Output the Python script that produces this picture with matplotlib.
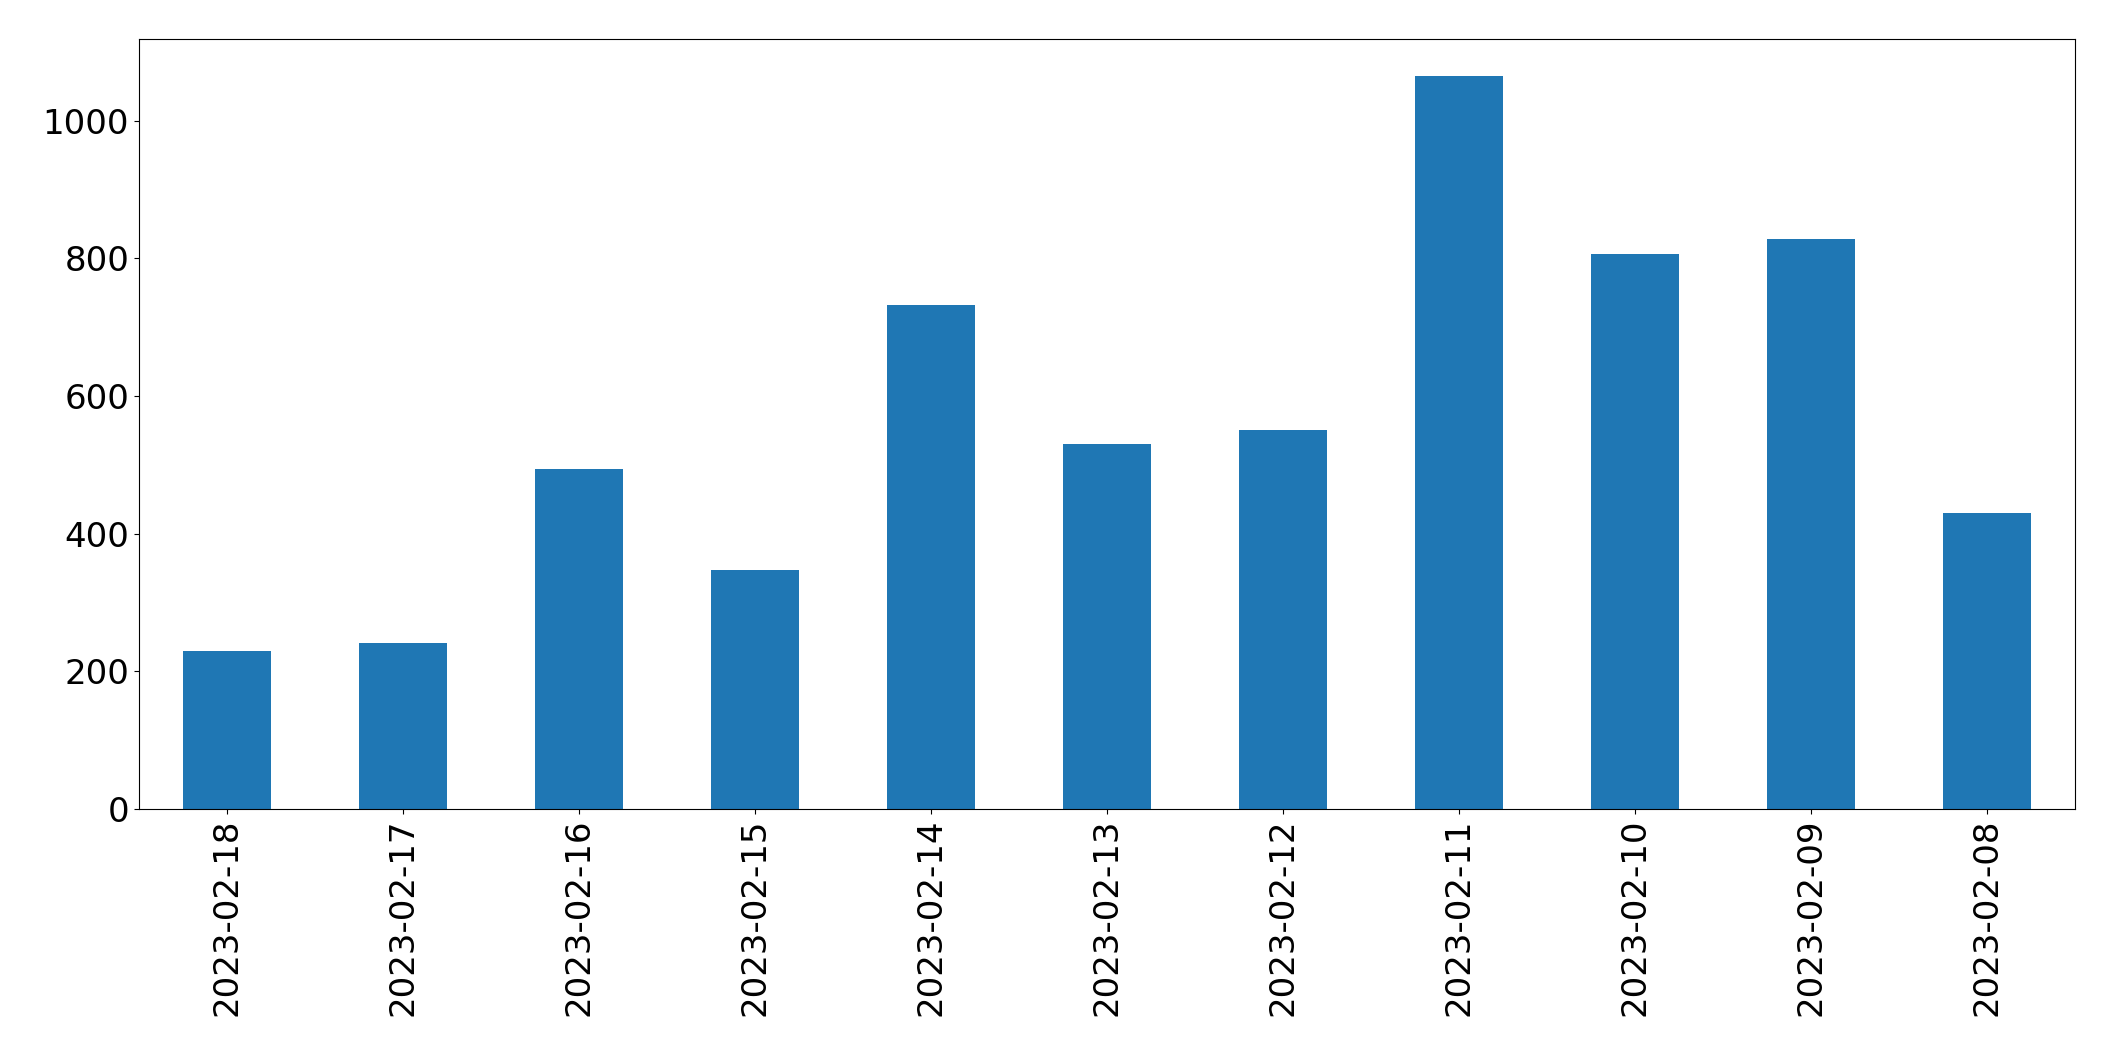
import matplotlib
matplotlib.use("Agg")
import matplotlib.pyplot as plt

# 日付ごとの件数
dates = ["2023-02-18", "2023-02-17", "2023-02-16", "2023-02-15", "2023-02-14",
         "2023-02-13", "2023-02-12", "2023-02-11", "2023-02-10", "2023-02-09",
         "2023-02-08"]
counts = [229, 241, 494, 347, 732, 530, 551, 1065, 807, 828, 430]

fig = plt.figure(figsize=(21.15, 10.61), dpi=100)
ax = fig.add_axes([0.0657, 0.2375, 0.9155, 0.7255])

x = range(len(dates))
ax.bar(x, counts, width=0.5, color="#1f77b4")
ax.set_xlim(-0.5, len(dates) - 0.5)
ax.set_ylim(0, max(counts) * 1.05)
ax.set_xticks(list(x))
ax.set_xticklabels(dates, rotation=90)
ax.tick_params(labelsize=24.5)

fig.savefig("out.png", dpi=100)
